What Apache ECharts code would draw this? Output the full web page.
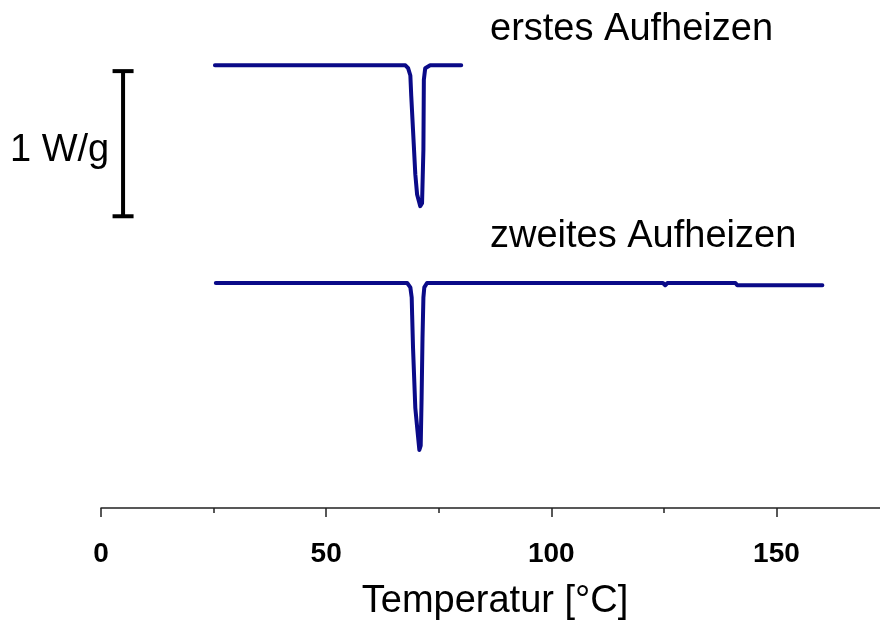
<!DOCTYPE html>
<html>
<head>
<meta charset="utf-8">
<script src="https://cdn.jsdelivr.net/npm/echarts@6/dist/echarts.min.js"></script>
<style>
  html, body { margin: 0; padding: 0; background: #fff; overflow: hidden; }
  /* the drawing is slightly wider than the window so the axis runs off the right edge */
  #chart { width: 889px; height: 626px; }
</style>
</head>
<body>
<div id="chart"></div>
<script>
// DSC heating runs: temperature [°C] and heat flow relative to baseline [W/g]
const heat1Temp = [25.3, 67.6, 68.2, 68.7, 68.9, 69.3, 69.8, 70.2, 70.9, 71.3, 71.6, 71.7, 72.0, 73.1, 80.0];
const heat1Flow = [0, 0, -0.02, -0.07, -0.21, -0.45, -0.75, -0.89, -0.97, -0.95, -0.58, -0.10, -0.02, 0, 0];

const heat2Temp = [25.5, 68.0, 68.7, 69.0, 69.1, 69.3, 69.8, 70.2, 70.7, 71.0, 71.2, 71.4, 71.6, 71.8, 72.4, 124.8, 125.3, 125.8, 140.9, 141.3, 160.2];
const heat2Flow = [0, 0, -0.03, -0.10, -0.22, -0.45, -0.86, -0.99, -1.15, -1.12, -0.79, -0.38, -0.10, -0.03, 0, 0, -0.015, 0, 0, -0.015, -0.015];

// vertical offsets that stack the two runs
const heat1Offset = 3.05;
const heat2Offset = 1.55;

// scale bar: 1 W/g
const scaleBarTemp = 4.9;
const scaleBarFrom = 2.01;
const scaleBarTo = 3.01;
const scaleBarLabel = '1 W/g';

const runLabels = ['erstes Aufheizen', 'zweites Aufheizen'];
const xAxisTitle = 'Temperatur [°C]';
const xMin = 0, xMax = 175, xStep = 50;

const font = "'Liberation Sans', Arial, sans-serif";
const curveColor = '#0a0a88';

function shifted(temps, flows, offset) {
  return temps.map((t, i) => [t, flows[i] + offset]);
}

const chart = echarts.init(document.getElementById('chart'), null, { renderer: 'canvas' });

chart.setOption({
  animation: false,
  backgroundColor: '#ffffff',
  grid: { left: 101, top: 0, right: 0, bottom: 115, containLabel: false },
  xAxis: {
    type: 'value',
    min: xMin,
    max: xMax,
    interval: xStep,
    name: xAxisTitle,
    nameLocation: 'middle',
    nameGap: 75,
    nameTextStyle: { fontFamily: font, fontSize: 38, color: '#000' },
    axisLine: { show: true, lineStyle: { color: '#222', width: 1.5 } },
    axisTick: { show: true, length: 9, lineStyle: { color: '#222', width: 1.5 } },
    minorTick: { show: true, splitNumber: 2, length: 5, lineStyle: { color: '#222', width: 1.5 } },
    splitLine: { show: false },
    axisLabel: {
      fontFamily: font, fontSize: 28, fontWeight: 'bold', color: '#000', margin: 32,
      showMaxLabel: false
    }
  },
  yAxis: {
    type: 'value',
    min: 0,
    max: 3.5,
    show: false
  },
  series: [
    {
      name: runLabels[0],
      type: 'line',
      data: shifted(heat1Temp, heat1Flow, heat1Offset),
      showSymbol: false,
      lineStyle: { color: curveColor, width: 4, cap: 'round', join: 'round' },
      clip: false
    },
    {
      name: runLabels[1],
      type: 'line',
      data: shifted(heat2Temp, heat2Flow, heat2Offset),
      showSymbol: false,
      lineStyle: { color: curveColor, width: 4, cap: 'round', join: 'round' },
      clip: false
    },
    {
      name: scaleBarLabel,
      type: 'line',
      data: [[scaleBarTemp, scaleBarFrom], [scaleBarTemp, scaleBarTo]],
      symbol: 'rect',
      symbolSize: [21, 4],
      itemStyle: { color: '#000' },
      lineStyle: { color: '#000', width: 4 },
      clip: false
    }
  ],
  graphic: [
    {
      type: 'text', left: 490, top: 11,
      style: { text: runLabels[0], font: '38px ' + font, fill: '#000' }
    },
    {
      type: 'text', left: 490, top: 218,
      style: { text: runLabels[1], font: '38px ' + font, fill: '#000' }
    },
    {
      type: 'text', left: 10, top: 132,
      style: { text: scaleBarLabel, font: '38px ' + font, fill: '#000' }
    }
  ]
});
</script>
</body>
</html>
